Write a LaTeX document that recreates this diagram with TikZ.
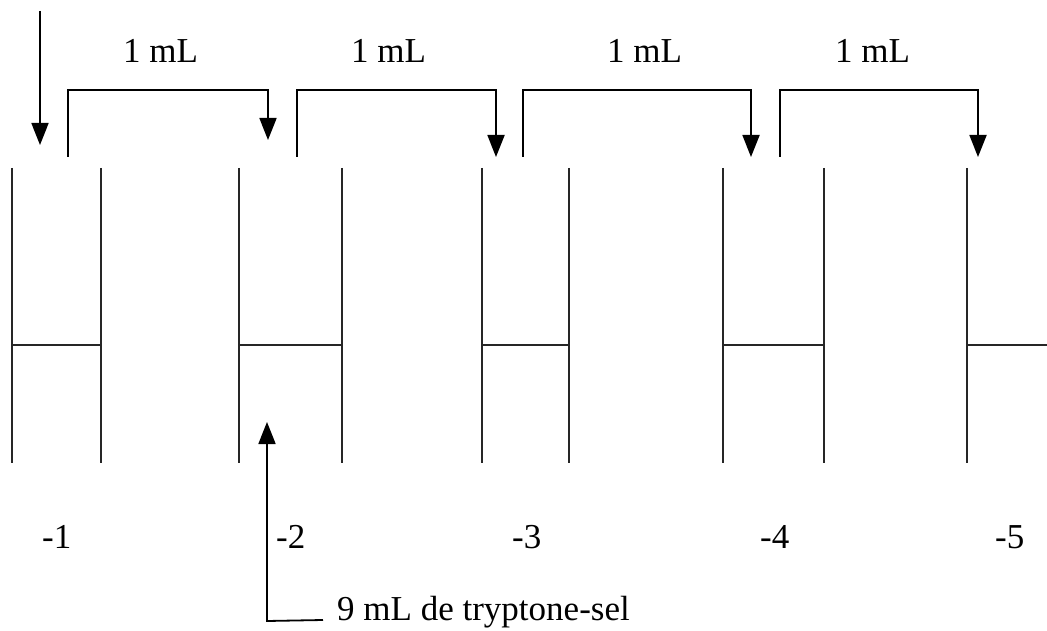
\documentclass[tikz,border=0pt]{standalone}
\usepackage{fontspec}
\setmainfont{Liberation Serif}
\usetikzlibrary{arrows.meta}
\begin{document}
\begin{tikzpicture}[x=1pt,y=-1pt,
  tubeline/.style={line width=1.6pt,draw=black!85},
  flow/.style={line width=1.8pt,draw=black,-{Triangle[width=17pt,length=22pt]}},
  lbl/.style={anchor=base west,inner sep=0pt,font=\fontsize{35}{40}\selectfont}]
\useasboundingbox (0,0) rectangle (1047,631);
% tubes: left x, right x
\foreach \n/\l/\r in {1/12/101,2/239/342,3/482/569,4/723/824}{
  \draw[tubeline] (\l,168) -- (\l,463);
  \draw[tubeline] (\r,168) -- (\r,463);
  \draw[tubeline] (\l,345) -- (\r,345);
}
\draw[tubeline] (967,168) -- (967,463);
\draw[tubeline] (967,345) -- (1047,345);
% coordinates
\coordinate (in0) at (40,11);
\coordinate (t1) at (40,145);
\coordinate (s1) at (68,157);
\coordinate (e1) at (268,140);
\coordinate (s2) at (297,157);
\coordinate (e2) at (496,157);
\coordinate (s3) at (523,157);
\coordinate (e3) at (751,157);
\coordinate (s4) at (780,157);
\coordinate (e4) at (978,157);
\coordinate (b0) at (267,621);
\coordinate (b1) at (267,422);
% arrows
\draw[flow] (in0) -- (t1);
\draw[flow] (s1) |- (168,90) -| (e1);
\draw[flow] (s2) |- (395,90) -| (e2);
\draw[flow] (s3) |- (637,90) -| (e3);
\draw[flow] (s4) |- (879,90) -| (e4);
% labels
\node[lbl] (v1) at (123,63) {1 mL};
\node[lbl] (v2) at (351,63) {1 mL};
\node[lbl] (v3) at (607,63) {1 mL};
\node[lbl] (v4) at (835,63) {1 mL};
\node[lbl] (d1) at (42,548) {-1};
\node[lbl] (d2) at (276,548) {-2};
\node[lbl] (d3) at (512,548) {-3};
\node[lbl] (d4) at (760,548) {-4};
\node[lbl] (d5) at (995,548) {-5};
\node[lbl] (ts) at (337,620) {9 mL de tryptone-sel};
\draw[flow] (ts.base west -| 323,621) -- (b0) -- (b1);
\end{tikzpicture}
\end{document}
